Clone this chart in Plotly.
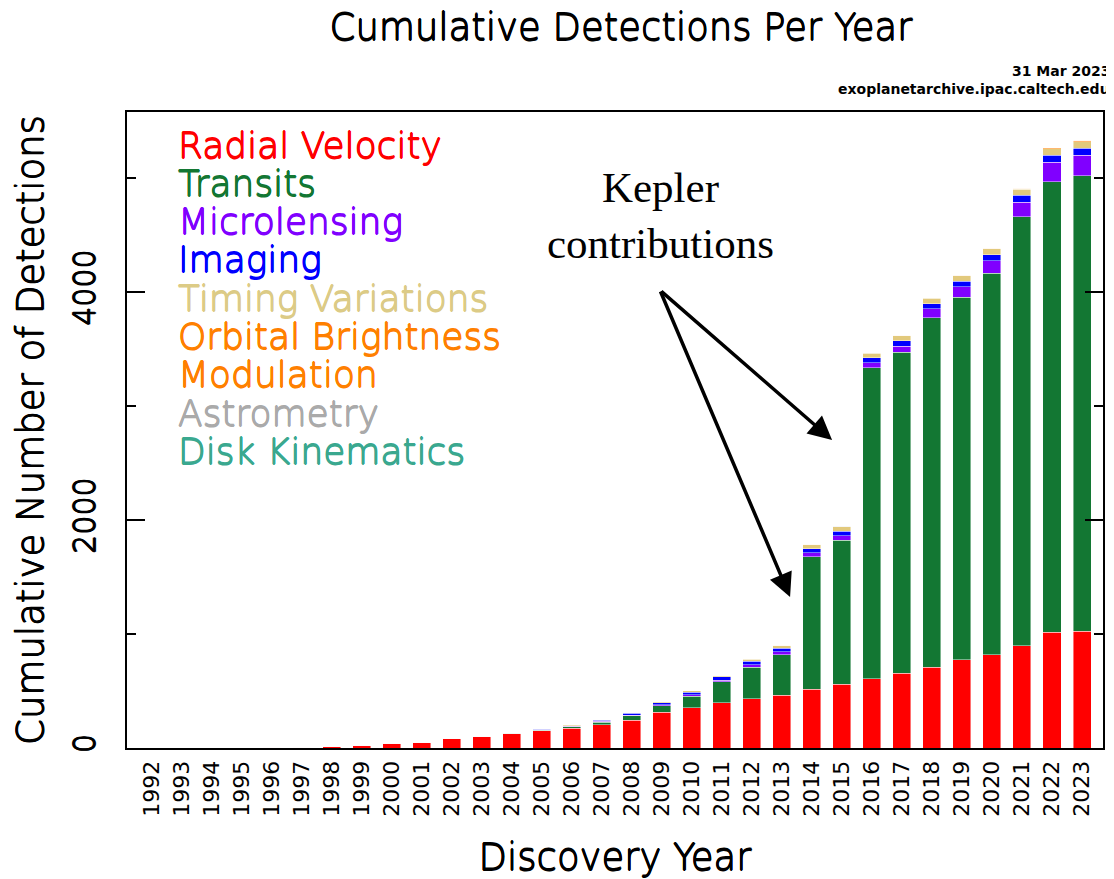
import plotly.graph_objects as go

years = list(range(1992, 2024))
year_labels = [str(y) for y in years]

radial_velocity = [0, 0, 0, 1, 6, 7, 11, 24, 41, 52, 80, 103, 123, 152, 173, 202,
                   243, 313, 352, 397, 430, 461, 514, 561, 608, 658, 707, 775, 818, 897, 1014, 1023]
transits = [0, 0, 0, 0, 0, 0, 0, 0, 0, 0, 1, 1, 5, 5, 14, 25,
            38, 56, 104, 185, 280, 357, 1164, 1262, 2728, 2816, 3069, 3179, 3348, 3764, 3955, 3999]
microlensing = [0, 0, 0, 0, 0, 0, 0, 0, 0, 0, 0, 0, 1, 3, 4, 6,
                7, 9, 10, 13, 20, 25, 35, 41, 44, 53, 77, 92, 111, 129, 170, 179]
imaging = [0, 0, 0, 0, 0, 0, 0, 0, 0, 0, 0, 0, 3, 4, 6, 12,
           17, 21, 25, 28, 31, 33, 36, 38, 42, 45, 46, 48, 51, 58, 61, 62]
timing_variations = [2, 2, 3, 3, 3, 3, 3, 3, 3, 3, 3, 4, 4, 4, 5, 5,
                     7, 9, 11, 14, 18, 22, 34, 38, 42, 44, 46, 49, 51, 53, 56, 58]
orbital_brightness_modulation = [0, 0, 0, 0, 0, 0, 0, 0, 0, 0, 0, 0, 0, 0, 0, 0,
                                 0, 0, 0, 2, 2, 3, 3, 3, 4, 4, 4, 5, 6, 8, 9, 9]
astrometry = [0, 0, 0, 0, 0, 0, 0, 0, 0, 0, 0, 0, 0, 0, 0, 0,
              0, 0, 1, 1, 1, 1, 1, 1, 1, 1, 1, 1, 1, 1, 2, 2]
disk_kinematics = [0, 0, 0, 0, 0, 0, 0, 0, 0, 0, 0, 0, 0, 0, 0, 0,
                   0, 0, 0, 0, 0, 0, 0, 0, 0, 0, 1, 1, 1, 1, 1, 1]

series_names = ["Radial Velocity", "Transits", "Microlensing", "Imaging", "Timing Variations",
                "Orbital Brightness Modulation", "Astrometry", "Disk Kinematics"]
series_values = [radial_velocity, transits, microlensing, imaging, timing_variations,
                 orbital_brightness_modulation, astrometry, disk_kinematics]
bar_colors = ["#ff0000", "#137733", "#8000ff", "#0000ff", "#e2c97c", "#ff8000", "#aaaaaa", "#3aa88f"]
text_colors = ["#ff0000", "#137733", "#8000ff", "#0000ff", "#dccb86", "#ff8000", "#aaaaaa", "#3aa88f"]

legend_lines = ["Radial Velocity", "Transits", "Microlensing", "Imaging", "Timing Variations",
                "Orbital Brightness", "Modulation", "Astrometry", "Disk Kinematics"]
legend_line_colors = [text_colors[0], text_colors[1], text_colors[2], text_colors[3], text_colors[4],
                      text_colors[5], text_colors[5], text_colors[6], text_colors[7]]

FONT = "DejaVu Sans"
LIGHT = 200


def thick(col, d=0.55):
    # thicken the extra-light strokes slightly with same-coloured text shadows
    return (f"{d}px 0px 0px {col}, -{d}px 0px 0px {col}, "
            f"0px {d}px 0px {col}, 0px -{d}px 0px {col}")


def lfont(size, col="black"):
    return dict(family=FONT, size=size, color=col, weight=LIGHT, shadow=thick(col))


fig = go.Figure()
for name, vals, col in zip(series_names, series_values, bar_colors):
    fig.add_trace(go.Bar(
        x=years, y=vals, name=name, width=0.6,
        marker=dict(color=col, line=dict(color="rgba(255,255,255,0.55)", width=0.8)),
        showlegend=False,
    ))

# page has an 8px body margin: figure origin sits at page (8, 8)
OFF = 8
W, H = 1114 - OFF, 879 - OFF
L, T = 127 - OFF, 112 - OFF
R = W - (1103 - OFF)
B = H - (748 - OFF)
pw, ph = W - L - R, H - T - B


def px_x(p):  # page pixel -> paper x
    return (p - OFF - L) / pw


def px_y(p):  # page pixel -> paper y
    return 1 - (p - OFF - T) / ph


annotations = []
for i, (txt, col) in enumerate(zip(legend_lines, legend_line_colors)):
    annotations.append(dict(
        text=txt, xref="paper", yref="paper", x=px_x(176), y=px_y(145 + i * 38.3),
        xanchor="left", yanchor="middle", showarrow=False,
        font=lfont(36, col)))

annotations.append(dict(
    text="<b>31 Mar 2023</b>", xref="paper", yref="paper", x=px_x(1112), y=px_y(71),
    xanchor="right", yanchor="middle", showarrow=False,
    font=dict(family=FONT, size=14, color="black")))
annotations.append(dict(
    text="<b>exoplanetarchive.ipac.caltech.edu</b>", xref="paper", yref="paper",
    x=px_x(1112), y=px_y(89), xanchor="right", yanchor="middle", showarrow=False,
    font=dict(family=FONT, size=14, color="black")))

annotations.append(dict(
    text="Kepler<br>contributions", xref="paper", yref="paper", x=px_x(660), y=px_y(216),
    xanchor="center", yanchor="middle", showarrow=False,
    font=dict(family="Liberation Serif", size=43, color="black")))

# arrows (positions in data coordinates)
tail = (2008.93, 4018)
for tip in [(2014.67, 2702), (2013.27, 1325)]:
    annotations.append(dict(
        text="", x=tip[0], y=tip[1], xref="x", yref="y",
        ax=tail[0], ay=tail[1], axref="x", ayref="y",
        showarrow=True, arrowhead=2, arrowsize=1.35, arrowwidth=3.5, arrowcolor="black",
        standoff=0, startstandoff=0))

fig.update_layout(
    width=W, height=H,
    margin=dict(l=L, r=R, t=T, b=B, autoexpand=False),
    barmode="stack",
    plot_bgcolor="white", paper_bgcolor="white",
    font=dict(family=FONT, color="black"),
    title=dict(text="Cumulative Detections Per Year", x=(621 - OFF) / W, y=1 - (27 - OFF) / H,
               xanchor="center", yanchor="middle", font=lfont(37)),
    annotations=annotations,
)

fig.update_xaxes(
    automargin=False,
    range=[1991.17, 2023.7], tickmode="array", tickvals=years, ticktext=year_labels,
    tickangle=-90, ticks="", showgrid=False, zeroline=False,
    showline=True, linecolor="black", linewidth=2, mirror=True,
    tickfont=dict(family=FONT, size=22, color="black"), ticklabelstandoff=2,
    title=dict(text="Discovery Year", font=lfont(37), standoff=30),
)
fig.update_yaxes(
    automargin=False,
    range=[0, 5580], tickmode="array", tickvals=[0, 2000, 4000],
    tickangle=-90, ticks="inside", ticklen=18, tickwidth=2, tickcolor="black",
    minor=dict(tickmode="array", tickvals=[1000, 3000, 5000], ticks="inside", ticklen=9,
               tickwidth=2, tickcolor="black", showgrid=False),
    showgrid=False, zeroline=False,
    showline=True, linecolor="black", linewidth=2, mirror="ticks",
    tickfont=lfont(30), ticklabelstandoff=18,
    title=dict(text="Cumulative Number of Detections", font=lfont(37), standoff=12),
)

fig.write_html("out.html")
